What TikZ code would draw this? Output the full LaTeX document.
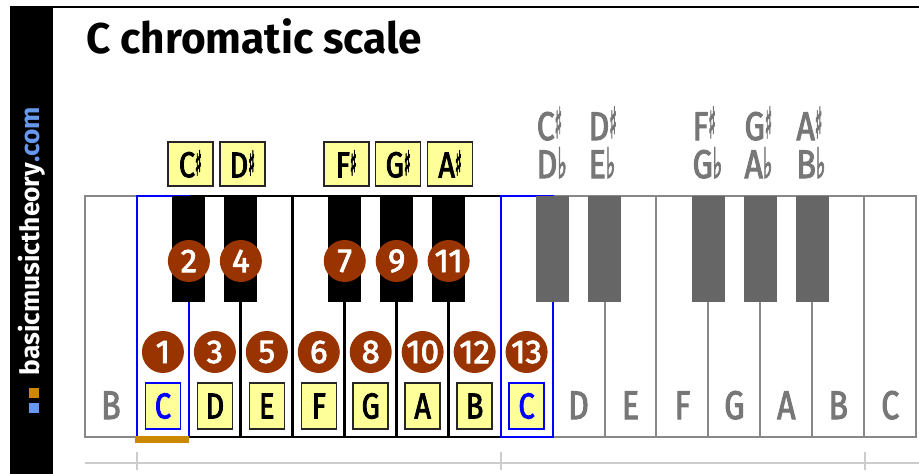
\documentclass[tikz,border=0pt]{standalone}
\usepackage{fontspec}
\setmainfont{Fira Sans}
\newfontfamily\condf{Fira Sans}[FakeStretch=0.8,FakeBold=2.5]
\newfontfamily\numf{Fira Sans}[FakeBold=2.5]
\newfontfamily\symf{DejaVu Sans}[FakeBold=3.5]
\newcommand{\mysharp}[2]{{\symf\fontsize{#1}{#1}\selectfont\raisebox{2pt}{\scalebox{#2}[1]{♯}}}}
\newcommand{\myflat}[2]{{\symf\fontsize{#1}{#1}\selectfont\scalebox{#2}[1]{♭}}}
\definecolor{brn}{HTML}{993300}
\definecolor{ylw}{HTML}{FFFF99}
\definecolor{gry}{HTML}{777777}
\definecolor{keygray}{HTML}{666666}
\definecolor{edgegray}{HTML}{888888}
\definecolor{orng}{HTML}{CC8800}
\definecolor{lblue}{HTML}{6699EE}
\definecolor{axisgray}{HTML}{CCCCCC}
\tikzset{
  wkey/.style={draw=edgegray, line width=2pt, fill=white, minimum width=51.95pt, minimum height=241pt, inner sep=0pt, outer sep=0pt, anchor=north west},
  wkeyhl/.style={wkey, draw=black, line width=1.5pt},
  wkeyc/.style={wkey, draw=blue, line width=2pt, fill=none},
  sepline/.style={line width=3pt, black},
  bkey/.style={fill=black, minimum width=33pt, minimum height=106pt, inner sep=0pt, anchor=north},
  bkeygray/.style={bkey, fill=keygray},
  numcirc/.style={circle, fill=brn, minimum size=42pt, inner sep=0pt, text=white, font=\numf\fontsize{33}{33}\selectfont},
  notebox/.style={draw=black!85, line width=1.5pt, fill=ylw, minimum width=35pt, minimum height=46pt, inner sep=0pt, font=\condf\fontsize{36}{36}\selectfont},
  noteboxc/.style={notebox, draw=blue, text=blue},
  topbox/.style={notebox, minimum width=45pt, minimum height=44pt},
  graylet/.style={text=gry, font=\condf\fontsize{40}{40}\selectfont, inner sep=0pt},
  axis/.style={draw=axisgray, line width=1.5pt}
}
\begin{document}
\begin{tikzpicture}[x=1pt,y=-1pt]
\useasboundingbox (0,0) rectangle (919,474);
% sidebar and frame
\fill[black] (10,7) rectangle (53,474);
\draw[line width=2pt] (10,7) -- (919,7);
\node[rotate=90, text=white, font=\bfseries, inner sep=0pt] (brand) at (31.5,241) {\resizebox{268pt}{!}{basicmusictheory\textcolor{lblue}{.com}}};
\fill[orng] (29,388) rectangle (39,398);
\fill[lblue] (29,403) rectangle (39,413);
% title
\node[anchor=base west, inner sep=0pt, font=\bfseries\fontsize{43}{43}\selectfont] (title) at (86,53) {\scalebox{0.985}[1]{C chromatic scale}};
% white keys
\foreach \i in {0,9,10,11,12,13,14,15} \node[wkey] (w\i) at ({85+51.95*\i},196) {};
\foreach \i in {2,...,7} \node[wkeyhl] (w\i) at ({85+51.95*\i},196) {};
\foreach \i in {2,...,6} \draw[sepline] (w\i.north east) -- (w\i.south east);
\draw[line width=2pt] (w2.south west) -- (w7.south east);
\foreach \i in {1,8} \node[wkeyc] (w\i) at ({85+51.95*\i},196) {};
% black keys
\foreach \k in {2,3,5,6,7} \node[bkey] (b\k) at ({85+51.95*\k},196) {};
\foreach \k in {9,10,12,13,14} \node[bkeygray] (b\k) at ({85+51.95*\k},196) {};
% numbers on black keys
\foreach \k/\n in {2/2,3/4,5/7,6/9,7/11} \node[numcirc] (nb\k) at ({85+51.95*\k},261) {\n};
% numbers on white keys
\foreach \i/\n in {1/1,2/3,3/5,4/6,5/8,6/10,7/12,8/13} \node[numcirc] (nw\i) at ({85+51.95*(\i+0.5)},352) {\n};
% note boxes
\foreach \i/\l in {2/D,3/E,4/F,5/G,6/A,7/B} \node[notebox] (lb\i) at ({85+51.95*(\i+0.5)},406) {\l};
\foreach \i in {1,8} \node[noteboxc] (lb\i) at ({85+51.95*(\i+0.5)},406) {C};
% gray white-key letters
\foreach \i/\l in {0/B,9/D,10/E,11/F,12/G,13/A,14/B,15/C} \node[graylet, anchor=base] (gl\i) at ({85+51.95*(\i+0.5)},419) {\l};
% top sharp boxes
\foreach \k/\l in {2/C,3/D,5/F,6/G,7/A} \node[topbox] (tb\k) at ({86.5+51.95*\k},164) {\l\mysharp{34}{0.42}};
% gray enharmonic labels
\foreach \k/\a/\b in {9/C/D,10/D/E,12/F/G,13/G/A,14/A/B} {
  \node[graylet, anchor=base west] (gs\k) at ({85+51.95*\k-16},140) {\a\mysharp{43}{0.36}};
  \node[graylet, anchor=base west] (gf\k) at ({85+51.95*\k-16},178) {\b\myflat{42}{0.48}};
}
% orange bar
\fill[orng] (135,436) rectangle (189,443);
% axis
\draw[axis] (85,463) -- (919,463);
\foreach \x in {137,501,865} \draw[axis] (\x,452) -- (\x,470);
\end{tikzpicture}
\end{document}
